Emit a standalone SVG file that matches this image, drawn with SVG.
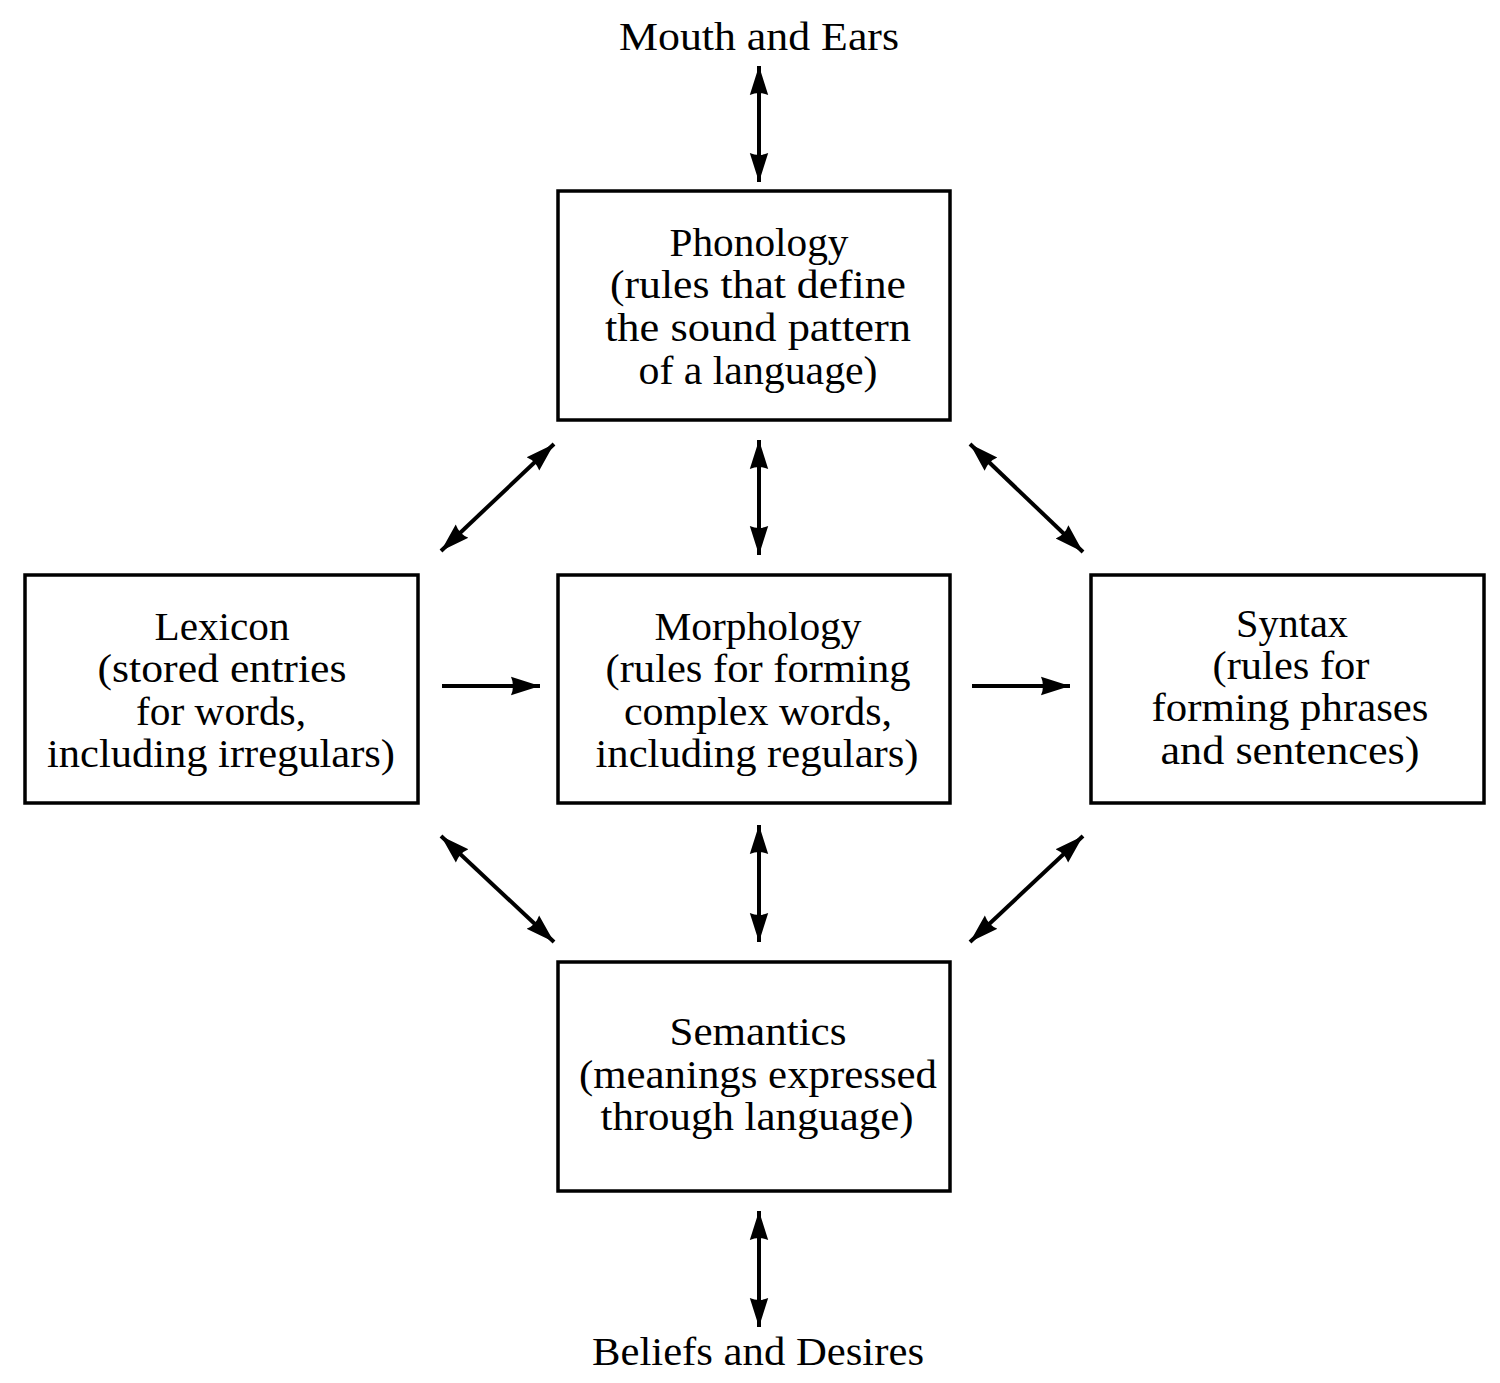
<svg xmlns="http://www.w3.org/2000/svg" width="1500" height="1383" viewBox="0 0 1500 1383">
<style>
.box{fill:#fff;stroke:#000;stroke-width:3.5}
text{font-family:"Liberation Serif","Times New Roman",serif;font-size:41px;fill:#000;text-anchor:middle}
.con line{stroke:#000;stroke-width:4}
</style>
<defs>
<marker id="ah" markerUnits="userSpaceOnUse" markerWidth="30" markerHeight="20" refX="29" refY="10" orient="auto-start-reverse" viewBox="0 0 30 20">
<path d="M29,10 L0,0.8 Q4,10 0,19.2 Z" fill="#000"/>
</marker>
</defs>
<rect width="1500" height="1383" fill="#fff"/>
<g id="mouth"><text x="759" y="50" textLength="280" lengthAdjust="spacingAndGlyphs">Mouth and Ears</text></g>
<g id="phonology">
<rect class="box" x="558" y="191" width="392" height="229"/>
<text x="759" y="256" textLength="179" lengthAdjust="spacingAndGlyphs">Phonology</text>
<text x="758" y="298" textLength="296" lengthAdjust="spacingAndGlyphs">(rules that define</text>
<text x="758" y="341" textLength="306" lengthAdjust="spacingAndGlyphs">the sound pattern</text>
<text x="758" y="384" textLength="239" lengthAdjust="spacingAndGlyphs">of a language)</text>
</g>
<g id="lexicon">
<rect class="box" x="25" y="575" width="393" height="228"/>
<text x="222" y="640" textLength="135" lengthAdjust="spacingAndGlyphs">Lexicon</text>
<text x="222" y="682" textLength="249" lengthAdjust="spacingAndGlyphs">(stored entries</text>
<text x="221" y="725" textLength="170" lengthAdjust="spacingAndGlyphs">for words,</text>
<text x="221" y="767" textLength="348" lengthAdjust="spacingAndGlyphs">including irregulars)</text>
</g>
<g id="morphology">
<rect class="box" x="558" y="575" width="392" height="228"/>
<text x="758" y="640" textLength="207" lengthAdjust="spacingAndGlyphs">Morphology</text>
<text x="758" y="682" textLength="305" lengthAdjust="spacingAndGlyphs">(rules for forming</text>
<text x="758" y="725" textLength="268" lengthAdjust="spacingAndGlyphs">complex words,</text>
<text x="757" y="767" textLength="323" lengthAdjust="spacingAndGlyphs">including regulars)</text>
</g>
<g id="syntax">
<rect class="box" x="1091" y="575" width="393" height="228"/>
<text x="1292" y="637" textLength="112" lengthAdjust="spacingAndGlyphs">Syntax</text>
<text x="1291" y="679" textLength="157" lengthAdjust="spacingAndGlyphs">(rules for</text>
<text x="1290" y="721" textLength="277" lengthAdjust="spacingAndGlyphs">forming phrases</text>
<text x="1290" y="764" textLength="259" lengthAdjust="spacingAndGlyphs">and sentences)</text>
</g>
<g id="semantics">
<rect class="box" x="558" y="962" width="392" height="229"/>
<text x="758" y="1045" textLength="177" lengthAdjust="spacingAndGlyphs">Semantics</text>
<text x="758" y="1088" textLength="358" lengthAdjust="spacingAndGlyphs">(meanings expressed</text>
<text x="757" y="1130" textLength="313" lengthAdjust="spacingAndGlyphs">through language)</text>
</g>
<g id="beliefs"><text x="758" y="1365" textLength="332" lengthAdjust="spacingAndGlyphs">Beliefs and Desires</text></g>
<g class="con" id="connectors">
<line x1="759" y1="66" x2="759" y2="182" marker-start="url(#ah)" marker-end="url(#ah)"/>
<line x1="759" y1="440" x2="759" y2="555" marker-start="url(#ah)" marker-end="url(#ah)"/>
<line x1="759" y1="825" x2="759" y2="942" marker-start="url(#ah)" marker-end="url(#ah)"/>
<line x1="759" y1="1211" x2="759" y2="1327" marker-start="url(#ah)" marker-end="url(#ah)"/>
<line x1="441" y1="551" x2="554" y2="444" marker-start="url(#ah)" marker-end="url(#ah)"/>
<line x1="970" y1="444" x2="1083" y2="552" marker-start="url(#ah)" marker-end="url(#ah)"/>
<line x1="441" y1="836" x2="554" y2="942" marker-start="url(#ah)" marker-end="url(#ah)"/>
<line x1="1083" y1="836" x2="970" y2="942" marker-start="url(#ah)" marker-end="url(#ah)"/>
<line x1="442" y1="686" x2="540" y2="686" marker-end="url(#ah)"/>
<line x1="972" y1="686" x2="1070" y2="686" marker-end="url(#ah)"/>
</g>
</svg>
